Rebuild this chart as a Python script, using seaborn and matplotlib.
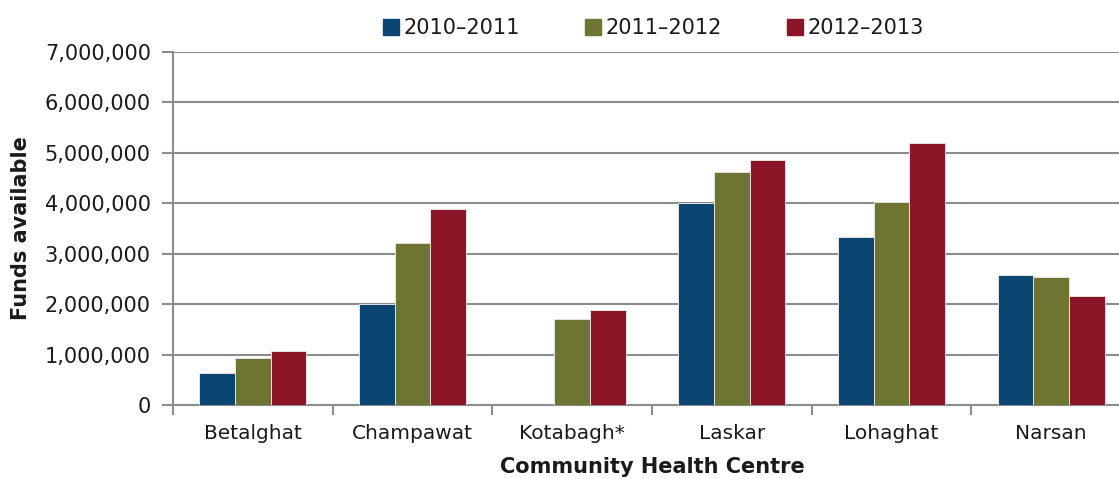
import matplotlib
matplotlib.use("Agg")
import matplotlib.pyplot as plt
from matplotlib.ticker import FuncFormatter, FixedLocator
from matplotlib.lines import Line2D
import seaborn as sns
import pandas as pd

centres = ["Betalghat", "Champawat", "Kotabagh*", "Laskar", "Lohaghat", "Narsan"]
series = ["2010\u20132011", "2011\u20132012", "2012\u20132013"]
funds_2010_2011 = [635000, 2005000, 0, 4000000, 3330000, 2580000]
funds_2011_2012 = [940000, 3220000, 1710000, 4620000, 4020000, 2540000]
funds_2012_2013 = [1065000, 3890000, 1875000, 4850000, 5200000, 2165000]
colors = ["#0B4572", "#6E7533", "#8C1627"]
y_ticks = [0, 1000000, 2000000, 3000000, 4000000, 5000000, 6000000, 7000000]

rows = []
for s, vals in zip(series, [funds_2010_2011, funds_2011_2012, funds_2012_2013]):
    for c, v in zip(centres, vals):
        rows.append({"Centre": c, "Period": s, "Funds": v})
df = pd.DataFrame(rows)

sns.set_theme(style="white")
plt.rcParams["font.family"] = ["DejaVu Sans"]
text_color = "#1a1a1a"
grid_color = "#8c8c8c"

fig = plt.figure(figsize=(11.19, 4.79), dpi=100)
ax = fig.add_axes([173 / 1119, (479 - 405) / 479, (1131 - 173) / 1119, (405 - 52) / 479])

sns.barplot(data=df, x="Centre", y="Funds", hue="Period", order=centres,
            hue_order=series, palette=colors, width=0.67, ax=ax,
            edgecolor="#e8e0e0", linewidth=0.7, saturation=1, legend=False,
            errorbar=None, zorder=3)

ax.set_ylim(0, 7000000)
ax.set_xlim(-0.5, 5.5)
ax.set_yticks(y_ticks)
ax.yaxis.set_major_formatter(FuncFormatter(lambda v, p: f"{int(v):,}"))
ax.grid(axis="y", color=grid_color, linewidth=1.5, zorder=0)
ax.set_axisbelow(True)

for side in ["top", "right"]:
    ax.spines[side].set_visible(False)
for side in ["left", "bottom"]:
    ax.spines[side].set_color(grid_color)
    ax.spines[side].set_linewidth(1.5)

ax.tick_params(axis="y", which="major", left=True, length=8, width=1.5,
               color=grid_color, labelsize=15, labelcolor=text_color, pad=8)
ax.tick_params(axis="x", which="major", bottom=False, labelsize=14.5,
               labelcolor=text_color, pad=8)
ax.xaxis.set_minor_locator(FixedLocator([i - 0.5 for i in range(len(centres) + 1)]))
ax.tick_params(axis="x", which="minor", bottom=True, length=7, width=1.5,
               color=grid_color)

ax.set_xlabel("Community Health Centre", fontsize=15, fontweight="bold",
              color=text_color, labelpad=10)
ax.set_ylabel("Funds available", fontsize=15, fontweight="bold",
              color=text_color, labelpad=10)

handles = [Line2D([0], [0], marker="s", linestyle="none", markersize=11,
                  markerfacecolor=c, markeredgecolor=c) for c in colors]
fig.legend(handles, series, loc="center", bbox_to_anchor=(652 / 1119, 1 - 28 / 479),
           ncol=3, frameon=False, fontsize=15, handletextpad=0.1,
           columnspacing=3.0, labelcolor=text_color, handlelength=1.0)

fig.savefig("out.png", dpi=100)
